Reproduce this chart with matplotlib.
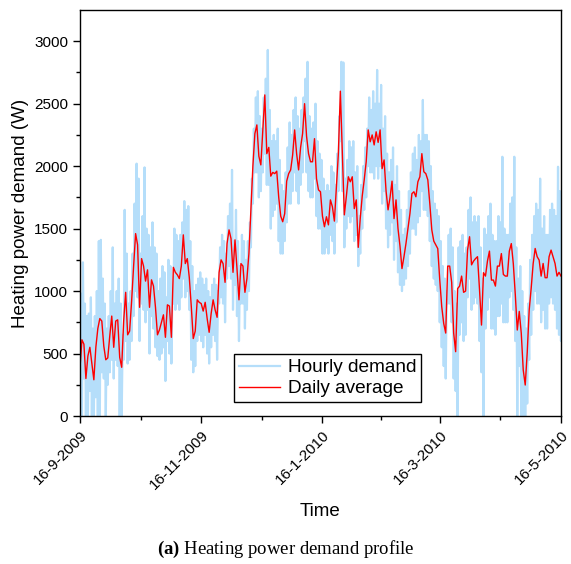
import numpy as np
import pandas as pd
import matplotlib
matplotlib.use('Agg')
import matplotlib.pyplot as plt

# daily average heating demand (W), one value per day from 16-9-2009
daily_avg = [
    380, 610, 575, 300, 480, 550, 420, 290, 550, 700,
    780, 760, 560, 450, 465, 640, 800, 550, 760, 770,
    470, 390, 760, 990, 650, 680, 920, 1200, 1460, 1370,
    870, 1260, 1200, 1080, 1170, 870, 1090, 1040, 870, 650,
    690, 750, 810, 630, 890, 880, 630, 1190, 1150, 1130,
    1100, 1200, 1450, 1220, 1260, 1110, 880, 620, 680, 930,
    910, 900, 840, 910, 780, 670, 820, 930, 850, 790,
    1150, 1250, 1220, 1070, 1380, 1490, 1420, 1150, 1410, 1180,
    930, 1220, 1200, 990, 1100, 1300, 1650, 2000, 2260, 2330,
    2080, 2010, 2290, 2570, 2100, 2150, 1920, 1950, 1940, 1960,
    1750, 1600, 1555, 1620, 1880, 1940, 1970, 2090, 2290, 2100,
    1970, 2150, 2260, 2500, 2240, 2100, 2035, 2035, 2220, 1900,
    1810, 1795, 1600, 1515, 1595, 1530, 1730, 1675, 1560, 1835,
    2100, 2600, 2100, 1610, 1755, 1915, 1875, 1915, 1660, 1730,
    1350, 1580, 1760, 1890, 2035, 2290, 2195, 2250, 2170, 2275,
    2190, 2290, 1980, 2050, 1800, 1650, 1750, 1880, 1580, 1730,
    1500, 1360, 1180, 1275, 1380, 1500, 1620, 1780, 1795, 1755,
    1875, 1915, 2100, 1955, 1940, 1890, 1700, 1490, 1400, 1370,
    1340, 1090, 875, 740, 664, 1200, 1200, 1070, 664, 515,
    1020, 1040, 1120, 990, 1000, 1330, 1435, 1210, 1240, 1260,
    1275, 1013, 728, 1147, 1120, 1240, 1320, 1088, 1088, 1040,
    1200, 1200, 1300, 1133, 1120, 1120, 1320, 1380, 1220, 973,
    688, 837, 664, 368, 248, 507, 848, 1024, 1221, 1341,
    1275, 1248, 1120, 1221, 1107, 1107, 1275, 1328, 1275, 1221,
    1120, 1150, 1120,
]

# hourly demand: daily low and high
hourly_lo = [
    250, 0, 300, 0, 0, 200, 0, 0, 150, 0,
    0, 350, 300, 0, 250, 350, 450, 300, 450, 400,
    0, 0, 450, 600, 420, 450, 600, 800, 1000, 950,
    600, 900, 850, 750, 850, 500, 800, 700, 550, 480,
    450, 500, 550, 280, 600, 500, 420, 900, 850, 900,
    850, 950, 1100, 950, 1000, 850, 450, 350, 400, 600,
    650, 600, 550, 650, 500, 420, 550, 650, 600, 450,
    900, 950, 900, 750, 1100, 1200, 1100, 850, 1050, 800,
    600, 900, 900, 700, 850, 1000, 1350, 1700, 1950, 1950,
    1750, 1800, 1950, 2100, 1850, 1850, 1500, 1600, 1650, 1700,
    1400, 1300, 1300, 1400, 1550, 1700, 1700, 1800, 1950, 1800,
    1700, 1850, 1950, 2200, 1950, 1800, 1750, 1750, 1900, 1600,
    1500, 1500, 1300, 1300, 1350, 1300, 1450, 1400, 1300, 1550,
    1800, 2200, 1800, 1350, 1500, 1600, 1550, 1600, 1400, 1450,
    1200, 1300, 1500, 1650, 1750, 2000, 1950, 1950, 1900, 2000,
    1900, 2000, 1700, 1800, 1500, 1350, 1450, 1550, 1250, 1400,
    1150, 1050, 1000, 1050, 1100, 1200, 1300, 1500, 1500, 1450,
    1550, 1600, 1800, 1650, 1650, 1600, 1400, 1200, 1100, 1050,
    1000, 750, 550, 400, 300, 900, 900, 750, 300, 200,
    0, 650, 750, 600, 650, 950, 1100, 850, 900, 950,
    900, 600, 350, 0, 700, 850, 950, 700, 700, 650,
    800, 800, 900, 750, 750, 750, 950, 1000, 850, 600,
    0, 400, 0, 0, 0, 100, 450, 650, 850, 1000,
    900, 900, 750, 850, 700, 700, 900, 950, 900, 850,
    700, 650, 600,
]
hourly_hi = [
    980, 1230, 900, 800, 820, 950, 700, 800, 1000, 1400,
    1410, 1100, 900, 700, 800, 1000, 1350, 900, 1000, 1100,
    900, 650, 1650, 1300, 900, 1000, 1300, 1700, 2020, 1900,
    1300, 1600, 1990, 1500, 1450, 1350, 1550, 1350, 1300, 1000,
    1100, 1200, 1150, 950, 1250, 1200, 1000, 1500, 1450, 1400,
    1450, 1550, 1720, 1650, 1680, 1400, 1200, 1000, 1050, 1100,
    1150, 1100, 1050, 1100, 1000, 950, 1050, 1100, 1050, 1000,
    1350, 1450, 1400, 1300, 1600, 1700, 1970, 1400, 1650, 1400,
    1200, 1450, 1400, 1250, 1400, 1550, 1900, 2300, 2550, 2600,
    2400, 2300, 2550, 2700, 2930, 2450, 2200, 2250, 2200, 2300,
    2050, 1850, 1800, 1950, 2150, 2350, 2250, 2450, 2550, 2400,
    2300, 2450, 2550, 2700, 2835, 2400, 2300, 2350, 2500, 2200,
    2100, 2050, 1900, 1800, 1850, 1800, 2000, 1950, 1850, 2100,
    2400, 2835, 2830, 1900, 2050, 2200, 2150, 2200, 1950, 2000,
    1600, 1850, 2000, 2150, 2300, 2550, 2450, 2600, 2500, 2770,
    2500, 2650, 2300, 2400, 2100, 1950, 2050, 2150, 1850, 2000,
    1800, 1650, 1450, 1500, 1650, 1800, 1950, 2100, 2150, 2050,
    2250, 2200, 2530, 2250, 2250, 2200, 2000, 1800, 1700, 1650,
    1600, 1400, 1200, 1100, 1000, 1450, 1500, 1350, 1000, 900,
    1350, 1400, 1450, 1300, 1350, 1650, 1750, 1550, 1600, 1550,
    1600, 1350, 1100, 1500, 1450, 1600, 1700, 1450, 1400, 1400,
    1600, 1550, 2075, 1500, 1450, 1450, 1700, 1750, 2075, 1350,
    1100, 1200, 1000, 800, 700, 900, 1250, 1450, 1600, 1700,
    1650, 1900, 1500, 1600, 1450, 1450, 1650, 1700, 1650, 1600,
    1995, 1800, 1500,
]

tick_dates = ['2009-09-16', '2009-11-16', '2010-01-16', '2010-03-16', '2010-05-16']
tick_labels = ['16-9-2009', '16-11-2009', '16-1-2010', '16-3-2010', '16-5-2010']

days = pd.date_range('2009-09-16', periods=len(daily_avg), freq='D')

# hourly trace: low at midnight, high at noon each day
hourly_t = []
hourly_v = []
for d, lo, hi in zip(days, hourly_lo, hourly_hi):
    hourly_t += [d, d + pd.Timedelta(hours=12)]
    hourly_v += [lo, hi]

plt.rcParams['font.family'] = ['Liberation Sans', 'DejaVu Sans']
plt.rcParams['mathtext.fontset'] = 'custom'
plt.rcParams['mathtext.rm'] = 'Liberation Serif'
plt.rcParams['mathtext.bf'] = 'Liberation Serif:bold'

fig = plt.figure(figsize=(5.71, 5.64), dpi=100)
ax = fig.add_axes([0.140, 0.2624, 0.8425, 0.7199])

ax.plot(hourly_t, hourly_v, color='#b5defa', lw=1.6, label='Hourly demand')
ax.plot(days, daily_avg, color='#ff0000', lw=1.0, label='Daily average')

ax.set_xlim(pd.Timestamp(tick_dates[0]), pd.Timestamp(tick_dates[-1]))
ax.set_ylim(0, 3250)

ax.set_xticks([pd.Timestamp(t) for t in tick_dates])
ax.set_xticklabels(tick_labels, rotation=45, ha='right', rotation_mode='anchor')
minor = [pd.Timestamp(tick_dates[i]) + (pd.Timestamp(tick_dates[i + 1]) - pd.Timestamp(tick_dates[i])) / 2
         for i in range(len(tick_dates) - 1)]
ax.set_xticks(minor, minor=True)
ax.set_yticks([0, 500, 1000, 1500, 2000, 2500, 3000])
ax.set_yticks(np.arange(250, 3250, 500), minor=True)

ax.tick_params(axis='both', which='major', direction='out', length=5, width=1, labelsize=11)
ax.tick_params(axis='both', which='minor', direction='out', length=3, width=1)
for s in ax.spines.values():
    s.set_linewidth(1.0)

ax.set_xlabel('Time', fontsize=13.5, labelpad=8)
ax.set_ylabel('Heating power demand (W)', fontsize=13.5, labelpad=4)

leg = ax.legend(loc='lower left', bbox_to_anchor=(0.32, 0.034), borderaxespad=0,
                fontsize=13.7, frameon=True, fancybox=False, framealpha=1,
                handlelength=2.2, borderpad=0.25, labelspacing=0.2, handletextpad=0.4)
leg.get_frame().set_edgecolor('black')
leg.get_frame().set_linewidth(1.0)

fig.text(0.5, 0.018, r'$\mathbf{(a)}$ Heating power demand profile', ha='center',
         fontsize=13.5, family='Liberation Serif')

fig.savefig('out.png', dpi=100)
